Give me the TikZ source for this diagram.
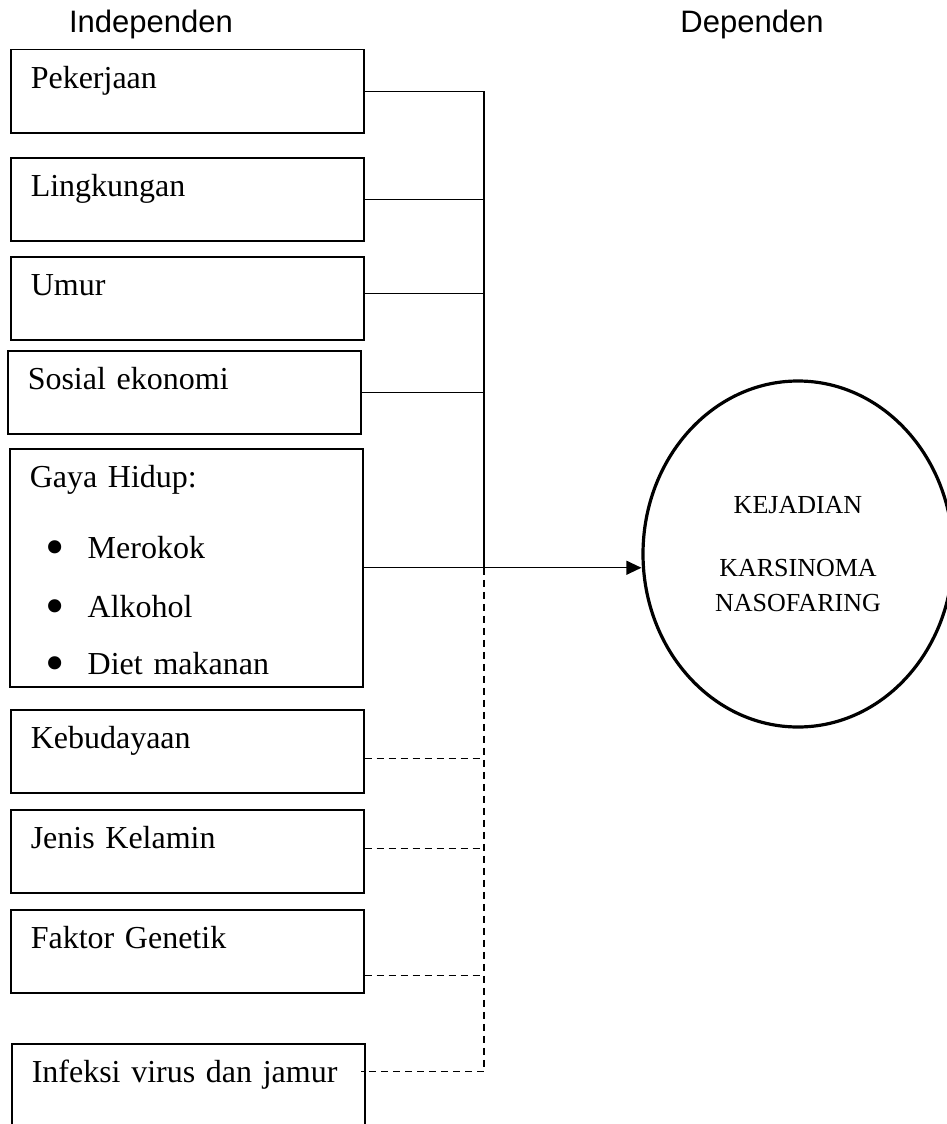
\documentclass[tikz,border=0pt]{standalone}
\usepackage{fontspec}
\setmainfont[WordSpace=0.65]{Liberation Serif}
\newfontfamily\headfont{Liberation Sans}
\usetikzlibrary{arrows.meta,shapes.geometric}
\newcommand{\bigdot}{\hspace*{16pt}\makebox[42pt][l]{\raisebox{-7pt}{\fontsize{55}{55}\selectfont\textbullet}}}

\begin{document}
\begin{tikzpicture}[x=1pt, y=-1pt, >={Triangle[length=15pt,width=14pt]},
  factor/.style={draw, line width=1.5pt, anchor=north west, text width=313pt,
    inner xsep=20pt, inner ysep=0pt, align=left, text height=39pt, text depth=44pt,
    font=\fontsize{32}{37}\selectfont},
  head/.style={anchor=base, font=\headfont\fontsize{31}{36}\selectfont},
  link/.style={line width=1.2pt},
  weak/.style={line width=1.2pt, dash pattern=on 7pt off 5pt}]

% Page frame
\useasboundingbox (0,0) rectangle (947,1124);
\clip (0,0) rectangle (947,1124);

% Column headings
\node[head] (indep) at (151,33) {Independen};
\node[head] (dep)   at (752,33) {Dependen};

% Independent variables (left column)
\node[factor] (kerja)   at (10,49)   {Pekerjaan};
\node[factor] (lingk)   at (10,157)  {Lingkungan};
\node[factor] (umur)    at (10,256)  {Umur};
\node[factor] (sosek)   at (7,350)   {Sosial ekonomi};
\node[factor, text depth=199pt] (gaya) at (9,448) {\parbox[t]{313pt}{Gaya Hidup:\\[34pt]
  \bigdot Merokok\\[22pt]
  \bigdot Alkohol\\[20pt]
  \bigdot Diet makanan}};
\node[factor] (budaya)  at (10,709)  {Kebudayaan};
\node[factor] (kelamin) at (10,809)  {Jenis Kelamin};
\node[factor] (genetik) at (10,909)  {Faktor Genetik};
\node[factor] (infeksi) at (11,1043) {Infeksi virus dan jamur};

% Dependent variable
\node[draw, ellipse, line width=3.2pt, minimum width=310pt, minimum height=346pt,
  align=center, font=\fontsize{26}{35}\selectfont] (kanker) at (798,554)
  {KEJADIAN\\[28pt]KARSINOMA\\NASOFARING};

% Collecting line
\coordinate (trunk) at (484,0);

% Solid links
\draw[link] (kerja.east) -| (gaya.east -| trunk);
\draw[link] (lingk.east) -- (lingk.east -| trunk);
\draw[link] ([yshift=5pt]umur.east) -- ([yshift=5pt]umur.east -| trunk);
\draw[link] (sosek.east) -- (sosek.east -| trunk);
\draw[link, ->] (gaya.east) -- (gaya.east -| kanker.west);

% Dashed links
\draw[weak] (gaya.east -| trunk) |- ([xshift=-5pt,yshift=14pt]infeksi.east);
\draw[weak] ([yshift=-7pt]budaya.east) -- ([yshift=-7pt]budaya.east -| trunk);
\draw[weak] ([yshift=3pt]kelamin.east) -- ([yshift=3pt]kelamin.east -| trunk);
\draw[weak] ([yshift=-24pt]genetik.east) -- ([yshift=-24pt]genetik.east -| trunk);

\end{tikzpicture}
\end{document}
